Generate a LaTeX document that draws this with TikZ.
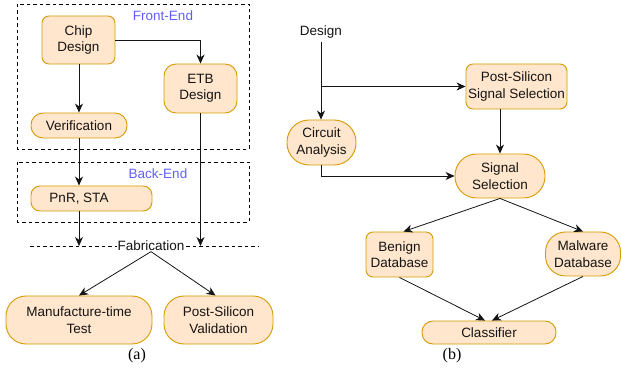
\documentclass[tikz,border=0pt]{standalone}
\usepackage{fontspec}
\setmainfont{Liberation Sans}
\newfontfamily\capfont{Liberation Serif}
\usetikzlibrary{arrows.meta,calc}
\definecolor{boxfill}{HTML}{FFE6CC}
\definecolor{boxline}{HTML}{D79B00}
\definecolor{stage}{RGB}{95,95,255}
\definecolor{wire}{HTML}{141414}

\begin{document}
\begin{tikzpicture}[x=1pt,y=-1pt,
  every node/.style={font=\fontsize{13.5}{16.5}\selectfont, text=wire},
  blk/.style args={#1/#2/#3}{draw=boxline, fill=boxfill, line width=0.9pt,
    minimum width=#1, minimum height=#2, rounded corners=#3,
    inner sep=0pt, align=center},
  flow/.style={draw=wire, line width=0.8pt,
    -{Stealth[length=9pt,width=8pt,inset=2.8pt]}},
  region/.style={draw=black, dash pattern=on 3.5pt off 3pt, line width=0.8pt},
  stagelbl/.style={text=stage},
  caption/.style={font=\capfont\fontsize{16}{18}\selectfont, text=black},
]
\useasboundingbox (0,0) rectangle (621,371);

% ---------------- (a) design flow ----------------
\draw[region] (17,4) rectangle (249,149);
\node[stagelbl] (fe) at (163,16) {Front-End};
\draw[region] (17,162) rectangle (249,222);
\node[stagelbl] (be) at (158,174) {Back-End};

\node[blk={73pt/48pt/7pt}]   (chip)  at (78.5,40)   {Chip\\Design};
\node[blk={73pt/49pt/12pt}]  (etb)   at (200.5,88.5) {ETB\\Design};
\node[blk={96pt/25pt/12pt}]  (verif) at (79,125.5)  {Verification};
\node[blk={121pt/25pt/9pt}]  (pnr)   at (91.5,198.5) {};
\node (pnrtxt) at (79,198.5) {PnR, STA};

\coordinate (fabL) at (30,246);
\coordinate (fabR) at (258,246);
\draw[region] (fabL) -- (fabR);
\node[fill=white, inner sep=0.5pt] (fab) at (151,246) {Fabrication};

\node[blk={146pt/48pt/20pt}] (mtt) at (79,320)    {Manufacture-time\\Test};
\node[blk={109pt/48pt/20pt}] (psv) at (218.5,320) {Post-Silicon\\Validation};

\draw[flow] (chip.east) -| (etb.north);
\draw[flow] (verif.north |- chip.south) -- (verif.north);
\draw[flow] (verif.south) -- (verif.south |- pnr.north);
\draw[flow] (verif.south |- pnr.south) -- (verif.south |- fab);
\draw[flow] (etb.south) -- (etb.south |- fab);
\draw[flow] (fab.south) -- (mtt.north);
\draw[flow] (fab.south) -- ([xshift=-3pt]psv.north);

\node[caption] (capa) at (137,356) {(a)};

% ---------------- (b) detection flow ----------------
\node (design) at (321,32) {Design};
\node[blk={101pt/45pt/7pt}]   (pss)     at (516.5,86.5) {Post-Silicon\\Signal Selection};
\node[blk={69pt/45pt/22pt}]   (ca)      at (321.5,142.5) {Circuit\\Analysis};
\node[blk={90pt/44pt/21.5pt}] (ss)      at (500,176)    {Signal\\Selection};
\node[blk={67pt/45pt/7pt}]    (benign)  at (399.5,254.5) {Benign\\Database};
\node[blk={75pt/44pt/20pt}]   (malware) at (583,254)    {Malware\\Database};
\node[blk={134pt/23pt/11pt}]  (cls)     at (489,332.5)  {Classifier};

\draw[flow] (design.south) -- (design.south |- ca.north);
\coordinate (tap) at (design.south |- pss.west);
\draw[flow] (tap) -- (pss.west);
\draw[flow] (ss.north |- pss.south) -- (ss.north);
\draw[flow] (ca.south) |- (ss.west);
\draw[flow] (ss.south) -- ([xshift=4pt]benign.north);
\draw[flow] (ss.south) -- (malware.north);
\draw[flow] (benign.south) -- ([xshift=-4pt]cls.north);
\draw[flow] (malware.south) -- ([xshift=3pt]cls.north);

\node[caption] (capb) at (452,356) {(b)};
\end{tikzpicture}
\end{document}
